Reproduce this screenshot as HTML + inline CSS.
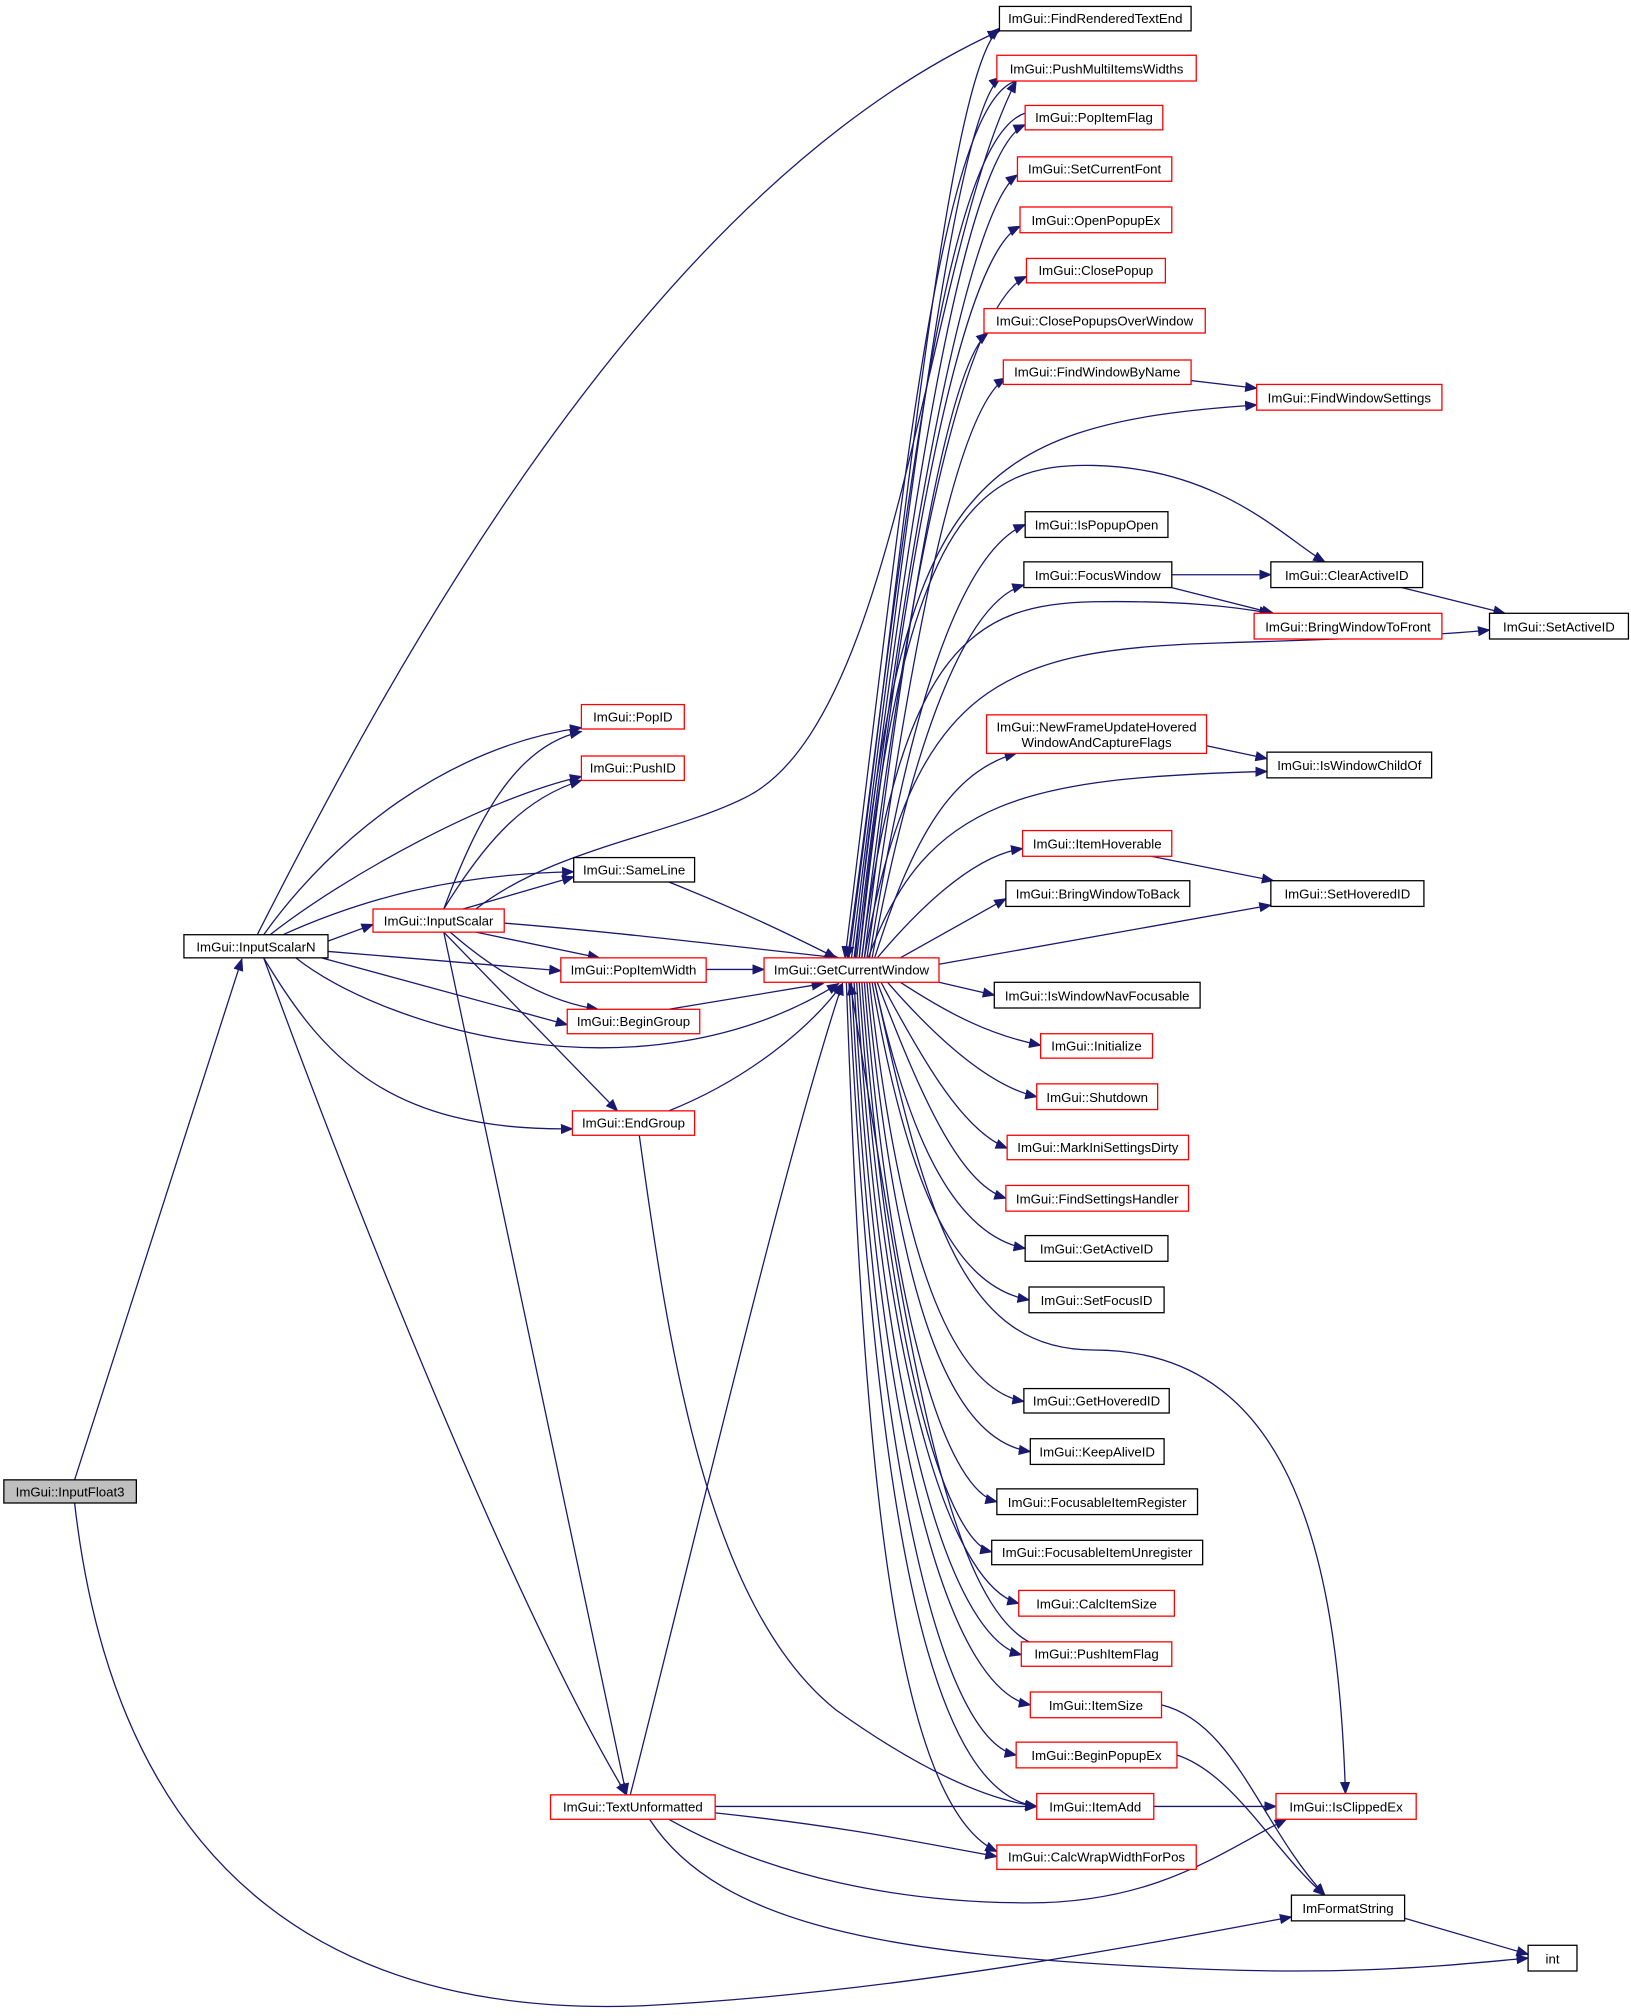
<!DOCTYPE html>
<html><head><meta charset="utf-8"><style>
html,body{margin:0;padding:0;background:#fff;}
svg{display:block;}
text{font-family:"Liberation Sans",sans-serif;font-size:10.3px;fill:#000;}
.e{fill:none;stroke:#191970;stroke-width:1;}
.r{fill:#fff;stroke:#ff0000;stroke-width:1;}
.b{fill:#fff;stroke:#000;stroke-width:1;}
</style></head><body>
<svg width="1631" height="2016" viewBox="0 0 1268 1568" preserveAspectRatio="none" xmlns="http://www.w3.org/2000/svg">
<defs><marker id="a" markerWidth="10" markerHeight="8" refX="9" refY="4" orient="auto" markerUnits="userSpaceOnUse"><path d="M0,0 L10,4 L0,8 z" fill="#191970"/></marker></defs>
<g class="e" marker-end="url(#a)">
<path d="M58 1151 L188 746"/>
<path d="M58 1169 C90 1450 250 1570 500 1560 C700 1550 900 1510 1004 1491"/>
<path d="M200 727 C300 530 500 150 777 24"/>
<path d="M205 727 C260 650 350 580 452 566"/>
<path d="M210 727 C270 680 380 620 452 604"/>
<path d="M220 727 C280 700 350 680 446 678"/>
<path d="M255 732 L290 719"/>
<path d="M255 740 L436 755"/>
<path d="M250 745 L441 797"/>
<path d="M230 745 C300 800 500 860 652 765"/>
<path d="M205 745 C250 820 300 880 445 878"/>
<path d="M205 745 C280 950 400 1250 487 1396"/>
<path d="M345 707 C370 640 400 580 452 569"/>
<path d="M345 707 C380 650 410 620 452 607"/>
<path d="M360 707 L446 682"/>
<path d="M370 707 C430 660 520 650 580 620 C700 560 720 200 790 63"/>
<path d="M392 718 C480 725 560 735 652 745"/>
<path d="M370 725 L466 745"/>
<path d="M350 725 C390 760 430 780 465 785"/>
<path d="M345 725 L480 864"/>
<path d="M345 725 L487 1396"/>
<path d="M520 686 C580 710 620 730 650 745"/>
<path d="M549 754 L594 754"/>
<path d="M520 785 L640 765"/>
<path d="M520 864 C580 840 630 800 655 765"/>
<path d="M497 883 C520 1050 550 1250 650 1330 C720 1380 770 1400 806 1405"/>
<path d="M490 1396 C540 1200 610 900 655 765"/>
<path d="M556 1405 L806 1405"/>
<path d="M556 1410 C650 1420 700 1430 775 1444"/>
<path d="M520 1415 C600 1460 700 1480 800 1480 C900 1480 950 1440 1000 1415"/>
<path d="M505 1415 C560 1500 700 1520 900 1530 C1050 1538 1130 1528 1188 1523"/>
<path d="M1092 1492 L1188 1520"/>
<path d="M903 1326 C960 1340 980 1420 1030 1474"/>
<path d="M915 1365 C960 1380 990 1440 1030 1474"/>
<path d="M897 1405 L992 1405"/>
<path d="M680 764 C720 950 750 1050 850 1050 C1000 1050 1040 1200 1046 1395"/>
<path d="M926 296 L977 302"/>
<path d="M665 745 C700 380 750 330 977 315"/>
<path d="M668 745 C700 400 760 360 850 362 C950 364 1000 420 1030 437"/>
<path d="M911 447 L988 447"/>
<path d="M911 457 L990 477"/>
<path d="M670 745 C700 500 760 470 850 468 C920 467 960 472 988 477"/>
<path d="M1090 457 L1170 477"/>
<path d="M672 745 C710 530 780 505 950 500 C1050 497 1120 494 1158 490"/>
<path d="M938 580 L985 590"/>
<path d="M675 745 C720 620 800 605 985 600"/>
<path d="M895 666 L990 685"/>
<path d="M730 750 L988 704"/>
<path d="M660 745 C700 450 735 60 777 22"/>
<path d="M662 745 C700 450 740 90 778 60"/>
<path d="M664 745 C700 450 745 120 797 97"/>
<path d="M666 745 C700 450 750 165 791 136"/>
<path d="M668 745 C700 460 745 200 793 176"/>
<path d="M670 745 C702 480 745 240 798 215"/>
<path d="M672 745 C702 500 735 285 768 259"/>
<path d="M674 745 C705 530 740 320 782 294"/>
<path d="M676 745 C705 560 745 430 797 408"/>
<path d="M678 745 C705 600 745 470 796 455"/>
<path d="M680 745 C710 650 740 600 790 586"/>
<path d="M682 745 C720 700 760 665 795 660"/>
<path d="M700 745 L782 699"/>
<path d="M730 764 L773 774"/>
<path d="M700 764 C740 790 770 805 809 813"/>
<path d="M690 764 C730 810 770 845 806 853"/>
<path d="M685 764 C720 830 750 880 783 893"/>
<path d="M682 764 C715 850 745 920 782 932"/>
<path d="M680 764 C705 880 740 960 797 971"/>
<path d="M678 764 C705 920 740 1000 800 1011"/>
<path d="M676 764 C700 980 740 1080 796 1090"/>
<path d="M674 764 C698 1020 740 1120 801 1129"/>
<path d="M672 764 C695 1050 740 1160 775 1168"/>
<path d="M670 764 C693 1080 740 1200 771 1207"/>
<path d="M668 764 C690 1100 745 1235 792 1247"/>
<path d="M666 764 C688 1130 745 1275 794 1287"/>
<path d="M664 764 C686 1160 745 1315 801 1326"/>
<path d="M662 764 C684 1190 740 1355 790 1365"/>
<path d="M660 764 C682 1220 730 1395 806 1405"/>
<path d="M658 764 C670 1100 690 1400 775 1440"/>
<path d="M790 63 C730 80 700 400 657 745"/>
<path d="M797 88 C730 110 700 450 659 745"/>
<path d="M800 1277 C730 1240 700 1000 661 765"/>
</g>
<g>
<rect x="3" y="1151" width="103" height="18" fill="#bfbfbf" stroke="#000"/><text x="54.5" y="1164" text-anchor="middle">ImGui::InputFloat3</text>
<rect class="b" x="143" y="727" width="112" height="18"/><text x="199" y="740" text-anchor="middle">ImGui::InputScalarN</text>
<rect class="r" x="290" y="707" width="102" height="18"/><text x="341" y="720" text-anchor="middle">ImGui::InputScalar</text>
<rect class="r" x="452" y="548" width="80" height="19"/><text x="492" y="561" text-anchor="middle">ImGui::PopID</text>
<rect class="r" x="452" y="588" width="80" height="19"/><text x="492" y="601" text-anchor="middle">ImGui::PushID</text>
<rect class="b" x="446" y="667" width="94" height="19"/><text x="493" y="680" text-anchor="middle">ImGui::SameLine</text>
<rect class="r" x="436" y="745" width="113" height="19"/><text x="492.5" y="758" text-anchor="middle">ImGui::PopItemWidth</text>
<rect class="r" x="441" y="785" width="103" height="19"/><text x="492.5" y="798" text-anchor="middle">ImGui::BeginGroup</text>
<rect class="r" x="445" y="864" width="95" height="19"/><text x="492.5" y="877" text-anchor="middle">ImGui::EndGroup</text>
<rect class="r" x="428" y="1396" width="128" height="19"/><text x="492" y="1409" text-anchor="middle">ImGui::TextUnformatted</text>
<rect class="r" x="594" y="745" width="136" height="19"/><text x="662" y="758" text-anchor="middle">ImGui::GetCurrentWindow</text>
<rect class="b" x="777" y="5" width="149" height="19"/><text x="851.5" y="18" text-anchor="middle">ImGui::FindRenderedTextEnd</text>
<rect class="r" x="775" y="43" width="155" height="20"/><text x="852.5" y="57" text-anchor="middle">ImGui::PushMultiItemsWidths</text>
<rect class="r" x="797" y="82" width="107" height="19"/><text x="850.5" y="95" text-anchor="middle">ImGui::PopItemFlag</text>
<rect class="r" x="791" y="122" width="120" height="19"/><text x="851" y="135" text-anchor="middle">ImGui::SetCurrentFont</text>
<rect class="r" x="793" y="161" width="118" height="20"/><text x="852" y="175" text-anchor="middle">ImGui::OpenPopupEx</text>
<rect class="r" x="798" y="201" width="108" height="19"/><text x="852" y="214" text-anchor="middle">ImGui::ClosePopup</text>
<rect class="r" x="765" y="240" width="172" height="19"/><text x="851" y="253" text-anchor="middle">ImGui::ClosePopupsOverWindow</text>
<rect class="r" x="780" y="280" width="146" height="19"/><text x="853" y="293" text-anchor="middle">ImGui::FindWindowByName</text>
<rect class="r" x="977" y="299" width="144" height="20"/><text x="1049" y="313" text-anchor="middle">ImGui::FindWindowSettings</text>
<rect class="b" x="797" y="398" width="111" height="20"/><text x="852.5" y="412" text-anchor="middle">ImGui::IsPopupOpen</text>
<rect class="b" x="796" y="437" width="115" height="20"/><text x="853.5" y="451" text-anchor="middle">ImGui::FocusWindow</text>
<rect class="b" x="988" y="437" width="118" height="20"/><text x="1047" y="451" text-anchor="middle">ImGui::ClearActiveID</text>
<rect class="r" x="975" y="477" width="146" height="20"/><text x="1048" y="491" text-anchor="middle">ImGui::BringWindowToFront</text>
<rect class="b" x="1158" y="477" width="108" height="20"/><text x="1212" y="491" text-anchor="middle">ImGui::SetActiveID</text>
<rect class="r" x="767" y="556" width="171" height="30"/><text x="852.5" y="569" text-anchor="middle">ImGui::NewFrameUpdateHovered</text><text x="852.5" y="581" text-anchor="middle">WindowAndCaptureFlags</text>
<rect class="b" x="985" y="585" width="128" height="20"/><text x="1049" y="599" text-anchor="middle">ImGui::IsWindowChildOf</text>
<rect class="r" x="795" y="646" width="116" height="20"/><text x="853" y="660" text-anchor="middle">ImGui::ItemHoverable</text>
<rect class="b" x="988" y="685" width="119" height="20"/><text x="1047.5" y="699" text-anchor="middle">ImGui::SetHoveredID</text>
<rect class="b" x="782" y="685" width="143" height="20"/><text x="853.5" y="699" text-anchor="middle">ImGui::BringWindowToBack</text>
<rect class="b" x="773" y="764" width="160" height="20"/><text x="853" y="778" text-anchor="middle">ImGui::IsWindowNavFocusable</text>
<rect class="r" x="809" y="804" width="87" height="19"/><text x="852.5" y="817" text-anchor="middle">ImGui::Initialize</text>
<rect class="r" x="806" y="843" width="94" height="20"/><text x="853" y="857" text-anchor="middle">ImGui::Shutdown</text>
<rect class="r" x="783" y="883" width="141" height="19"/><text x="853.5" y="896" text-anchor="middle">ImGui::MarkIniSettingsDirty</text>
<rect class="r" x="782" y="922" width="142" height="20"/><text x="853" y="936" text-anchor="middle">ImGui::FindSettingsHandler</text>
<rect class="b" x="797" y="961" width="111" height="20"/><text x="852.5" y="975" text-anchor="middle">ImGui::GetActiveID</text>
<rect class="b" x="800" y="1001" width="105" height="20"/><text x="852.5" y="1015" text-anchor="middle">ImGui::SetFocusID</text>
<rect class="b" x="796" y="1080" width="113" height="19"/><text x="852.5" y="1093" text-anchor="middle">ImGui::GetHoveredID</text>
<rect class="b" x="801" y="1119" width="104" height="20"/><text x="853" y="1133" text-anchor="middle">ImGui::KeepAliveID</text>
<rect class="b" x="775" y="1158" width="156" height="20"/><text x="853" y="1172" text-anchor="middle">ImGui::FocusableItemRegister</text>
<rect class="b" x="771" y="1198" width="164" height="19"/><text x="853" y="1211" text-anchor="middle">ImGui::FocusableItemUnregister</text>
<rect class="r" x="792" y="1237" width="121" height="20"/><text x="852.5" y="1251" text-anchor="middle">ImGui::CalcItemSize</text>
<rect class="r" x="794" y="1277" width="117" height="19"/><text x="852.5" y="1290" text-anchor="middle">ImGui::PushItemFlag</text>
<rect class="r" x="801" y="1316" width="102" height="20"/><text x="852" y="1330" text-anchor="middle">ImGui::ItemSize</text>
<rect class="r" x="790" y="1355" width="125" height="20"/><text x="852.5" y="1369" text-anchor="middle">ImGui::BeginPopupEx</text>
<rect class="r" x="806" y="1395" width="91" height="20"/><text x="851.5" y="1409" text-anchor="middle">ImGui::ItemAdd</text>
<rect class="r" x="775" y="1435" width="155" height="19"/><text x="852.5" y="1448" text-anchor="middle">ImGui::CalcWrapWidthForPos</text>
<rect class="r" x="992" y="1395" width="109" height="20"/><text x="1046.5" y="1409" text-anchor="middle">ImGui::IsClippedEx</text>
<rect class="b" x="1004" y="1474" width="88" height="20"/><text x="1048" y="1488" text-anchor="middle">ImFormatString</text>
<rect class="b" x="1188" y="1513" width="38" height="20"/><text x="1207" y="1527" text-anchor="middle">int</text>
</g>
</svg>
</body></html>
